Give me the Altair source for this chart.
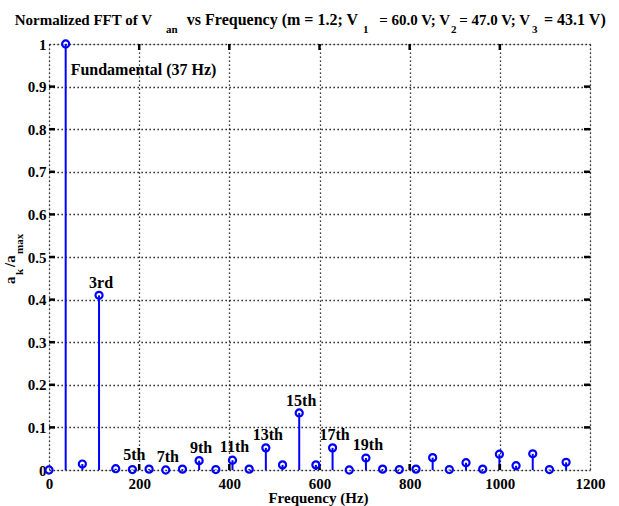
import altair as alt
import pandas as pd

# ---------------- data ----------------
freqs = [0, 37, 74, 111, 148, 185, 222, 259, 296, 333, 370, 407, 444, 481, 518, 555,
         592, 629, 666, 703, 740, 777, 814, 851, 888, 925, 962, 999, 1036, 1073, 1110, 1147]
amps = [0.0, 1.0, 0.014, 0.41, 0.003, 0.001, 0.002, 0.0, 0.002, 0.022, 0.001, 0.023,
        0.002, 0.052, 0.012, 0.134, 0.012, 0.052, 0.0, 0.028, 0.002, 0.001, 0.002,
        0.029, 0.001, 0.017, 0.002, 0.037, 0.010, 0.038, 0.001, 0.018]

label_text = ["3rd", "5th", "7th", "9th", "11th", "13th", "15th", "17th", "19th"]
label_f = [111, 185, 259, 333, 407, 481, 555, 629, 703]
label_y = [0.44, 0.035, 0.03, 0.052, 0.053, 0.083, 0.163, 0.083, 0.058]

fund_text = ["Fundamental (37 Hz)"]
fund_f = [48]
fund_y = [0.94]

x_ticks = [0, 200, 400, 600, 800, 1000, 1200]
y_ticks = [0, 0.1, 0.2, 0.3, 0.4, 0.5, 0.6, 0.7, 0.8, 0.9, 1.0]
x_inner = [200, 400, 600, 800, 1000]
y_inner = [0.1, 0.2, 0.3, 0.4, 0.5, 0.6, 0.7, 0.8, 0.9]

# ---------------- layout ----------------
W, H = 541, 426
FONT = "Liberation Serif"
BLUE = "#0000FF"

df = pd.DataFrame({"f": freqs, "v": amps})
lab = pd.DataFrame({"f": label_f, "v": label_y, "t": label_text})
fund = pd.DataFrame({"f": fund_f, "v": fund_y, "t": fund_text})
xt = pd.DataFrame({"f": x_inner})
yt = pd.DataFrame({"v": y_inner})

xscale = alt.Scale(domain=[0, 1200], nice=False, zero=False)
yscale = alt.Scale(domain=[0, 1], nice=False, zero=False)
xaxis = alt.Axis(values=x_ticks, title=None, grid=True, domain=False, ticks=False,
                 format="d", labelPadding=6, labelFont=FONT, labelFontSize=15,
                 labelFontWeight="bold", labelColor="black", gridColor="black",
                 gridDash=[1.3, 2.7], gridWidth=1.3, gridOpacity=1, labelFlush=False,
                 labelOverlap=False)
yaxis = alt.Axis(values=y_ticks, title=None, grid=True, domain=False, ticks=False,
                 format=".1~f", labelPadding=3, labelFont=FONT, labelFontSize=15,
                 labelFontWeight="bold", labelColor="black", gridColor="black",
                 gridDash=[1.3, 2.7], gridWidth=1.3, gridOpacity=1, labelFlush=False,
                 labelOverlap=False)

X = alt.X("f:Q", scale=xscale, axis=xaxis)
Y = alt.Y("v:Q", scale=yscale, axis=yaxis)

base = alt.Chart(df)

stems = base.mark_rule(color=BLUE, strokeWidth=2).encode(x=X, y=Y, y2=alt.datum(0))
points = base.mark_point(shape="circle", filled=False, color=BLUE, strokeWidth=2.2,
                         size=50, opacity=1).encode(x=X, y=Y)

tick_bot = alt.Chart(xt).mark_rule(color="black", strokeWidth=2.5).encode(
    x=X, y=alt.value(H), y2=alt.value(H - 6))
tick_top = alt.Chart(xt).mark_rule(color="black", strokeWidth=2.5).encode(
    x=X, y=alt.value(0), y2=alt.value(6))
tick_left = alt.Chart(yt).mark_rule(color="black", strokeWidth=2.5).encode(
    y=Y, x=alt.value(0), x2=alt.value(6))
tick_right = alt.Chart(yt).mark_rule(color="black", strokeWidth=2.5).encode(
    y=Y, x=alt.value(W), x2=alt.value(W - 6))

labels = alt.Chart(lab).mark_text(font=FONT, fontSize=16, fontWeight="bold", color="black",
                                  align="center", baseline="middle", dx=2).encode(
    x=X, y=Y, text="t:N")
fund_lab = alt.Chart(fund).mark_text(font=FONT, fontSize=16, fontWeight="bold", color="black",
                                     align="left", baseline="middle").encode(
    x=X, y=Y, text="t:N")


def txt(s, x, y, size=15, angle=0, align="left", baseline="alphabetic"):
    kw = dict(font=FONT, fontSize=size, fontWeight="bold", color="black",
              align=align, baseline=baseline)
    if angle:
        kw["angle"] = angle
    return alt.Chart(pd.DataFrame({"t": [s]})).mark_text(**kw).encode(
        x=alt.value(x), y=alt.value(y), text="t:N")


# title pieces (pixel positions relative to plot area); main pieces end at the subscript
title_parts = [
    txt("Normalized FFT of V", 103, -19, align="right"),
    txt("an", 117, -11, size=11),
    txt("vs Frequency (m = 1.2; V", 309, -19, size=16, align="right"),
    txt("1", 314, -11, size=11),
    txt("= 60.0 V; V", 401, -19, align="right"),
    txt("2", 402, -11, size=11),
    txt("= 47.0 V; V", 481, -19, align="right"),
    txt("3", 483, -11, size=11),
    txt("= 43.1 V)", 495, -19, size=16),
]

xtitle = txt("Frequency (Hz)", W / 2 - 1, 459, align="center")

ytitle_parts = [
    txt("a", -34, 240, angle=270),
    txt("k", -26, 231, size=11, angle=270),
    txt("/a", -34, 223, angle=270),
    txt("max", -26, 210, size=11, angle=270),
]

chart = alt.layer(
    stems, tick_bot, tick_top, tick_left, tick_right, points, labels, fund_lab,
    *title_parts, xtitle, *ytitle_parts
).properties(
    width=W, height=H,
    padding={"left": 49, "top": 44, "right": 29, "bottom": 36},
    autosize="none",
).configure_view(stroke="black", strokeWidth=3).configure(background="white")

chart.save("out.html", embed_options={"renderer": "svg", "actions": False})
